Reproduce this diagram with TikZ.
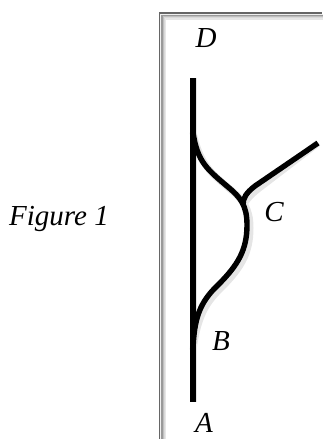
\documentclass[tikz,border=0pt]{standalone}
\usepackage{fontspec}
\setmainfont{Liberation Serif}
\begin{document}
\begin{tikzpicture}[x=1pt,y=-1pt,
  lbl/.style={font=\fontsize{29}{32}\selectfont\itshape, inner sep=0pt, anchor=base},
  track/.style={line width=5.4pt, black},
  shade/.style={line width=7pt, black!10},
  frameline/.style={line width=1.2pt, black!60}]
\useasboundingbox (0,0) rectangle (322,439);
% frame
\coordinate (f1) at (159.5,439);
\coordinate (f2) at (159.5,13);
\coordinate (f3) at (322,13);
\foreach \k/\o in {1/12,2/8,3/5,4/3,5/2}{
  \draw[line width=1.2pt, black, opacity=0.\o/2] ([xshift=\k*1.2pt,yshift=-\k*1.2pt]f1) -- ([xshift=\k*1.2pt,yshift=-\k*1.2pt]f2) -- ([xshift=\k*1.2pt,yshift=-\k*1.2pt]f3);
}
\draw[frameline] (f1) -- (f2) -- (f3);
% coordinates
\coordinate (top) at (193,78);
\coordinate (bot) at (193,402);
\coordinate (split) at (193,132);
\coordinate (merge) at (193,350);
\coordinate (c) at (243,205);
\coordinate (tip) at (318,143);
% shadows
\begin{scope}[shift={(3,3)}]
\draw[shade] (top) -- (bot);
\draw[shade] (split) .. controls (197,162) and (208,170) .. (228,187)
  .. controls (240,197) and (247,205) .. (247,225)
  .. controls (247,250) and (238,265) .. (218,285)
  .. controls (200,302) and (194,318) .. (merge);
\draw[shade] (c) .. controls (243,198) and (246,193) .. (255,186) -- (tip);
\end{scope}
% tracks
\draw[track] (top) -- (bot);
\draw[track] (split) .. controls (197,162) and (208,170) .. (228,187)
  .. controls (240,197) and (247,205) .. (247,225)
  .. controls (247,250) and (238,265) .. (218,285)
  .. controls (200,302) and (194,318) .. (merge);
\draw[track] (c) .. controls (243,198) and (246,193) .. (255,186) -- (tip);
% labels
\node[lbl] (D) at (206,47) {D};
\node[lbl] (C) at (274,221) {C};
\node[lbl] (B) at (221,350) {B};
\node[lbl] (A) at (204,432) {A};
\node[lbl] (fig) at (59,225) {Figure 1};
\end{tikzpicture}
\end{document}
